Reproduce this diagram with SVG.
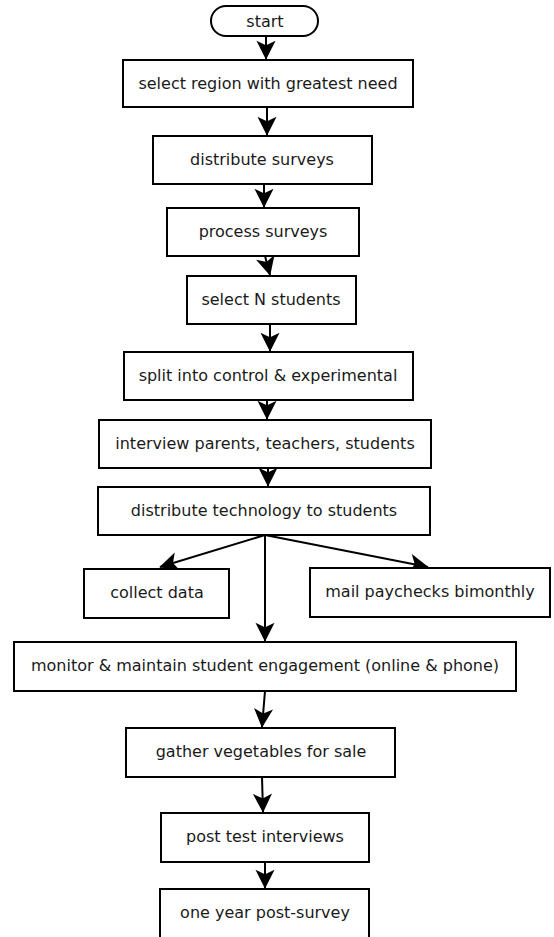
<svg xmlns="http://www.w3.org/2000/svg" width="554" height="937" viewBox="0 0 554 937">
<style>
.box{fill:#fff;stroke:#000;stroke-width:2}
.lbl{font-family:"DejaVu Sans",sans-serif;font-size:16px;fill:#1a1a1a;text-anchor:middle}
.edge{stroke:#000;stroke-width:2;fill:none;marker-end:url(#arr)}
</style>
<defs>
<marker id="arr" markerUnits="userSpaceOnUse" markerWidth="22" markerHeight="22" viewBox="-18 -10 20 20" refX="0" refY="0" orient="auto">
<path d="M-1,0 L-15,-7 L-11.5,0 L-15,7 Z" fill="#000" stroke="#000" stroke-width="1.5" stroke-linejoin="miter"/>
</marker>
</defs>
<rect width="554" height="937" fill="#fff"/>
<g id="connectors">
<line class="edge" x1="266" y1="36" x2="266" y2="59"/>
<line class="edge" x1="267" y1="107" x2="267" y2="135"/>
<line class="edge" x1="264" y1="184" x2="264" y2="207"/>
<line class="edge" x1="265" y1="256" x2="270" y2="275"/>
<line class="edge" x1="270" y1="324" x2="270" y2="351"/>
<line class="edge" x1="267" y1="400" x2="267" y2="419"/>
<line class="edge" x1="268" y1="468" x2="268" y2="486"/>
<line class="edge" x1="265" y1="535" x2="160" y2="567"/>
<line class="edge" x1="265" y1="535" x2="428" y2="567"/>
<line class="edge" x1="265" y1="535" x2="265" y2="641"/>
<line class="edge" x1="265" y1="691" x2="262" y2="727"/>
<line class="edge" x1="262" y1="777" x2="263" y2="812"/>
<line class="edge" x1="265" y1="862" x2="265" y2="888"/>
</g>
<g id="start"><rect class="box" x="211" y="6" width="107" height="30" rx="15" ry="15"/><text class="lbl" x="265" y="27">start</text></g>
<g id="n1"><rect class="box" x="123" y="60" width="290" height="47"/><text class="lbl" x="268" y="89">select region with greatest need</text></g>
<g id="n2"><rect class="box" x="153" y="136" width="219" height="48"/><text class="lbl" x="262" y="165">distribute surveys</text></g>
<g id="n3"><rect class="box" x="167" y="208" width="192" height="48"/><text class="lbl" x="263" y="237">process surveys</text></g>
<g id="n4"><rect class="box" x="187" y="276" width="169" height="48"/><text class="lbl" x="271" y="305">select N students</text></g>
<g id="n5"><rect class="box" x="124" y="352" width="289" height="48"/><text class="lbl" x="268" y="381">split into control &amp; experimental</text></g>
<g id="n6"><rect class="box" x="99" y="420" width="332" height="48"/><text class="lbl" x="265" y="449">interview parents, teachers, students</text></g>
<g id="n7"><rect class="box" x="98" y="487" width="332" height="48"/><text class="lbl" x="264" y="516">distribute technology to students</text></g>
<g id="n8"><rect class="box" x="84" y="569" width="145" height="49"/><text class="lbl" x="157" y="598">collect data</text></g>
<g id="n9"><rect class="box" x="310" y="568" width="240" height="49"/><text class="lbl" x="430" y="597">mail paychecks bimonthly</text></g>
<g id="n10"><rect class="box" x="14" y="642" width="502" height="49"/><text class="lbl" x="265" y="671">monitor &amp; maintain student engagement (online &amp; phone)</text></g>
<g id="n11"><rect class="box" x="126" y="728" width="269" height="49"/><text class="lbl" x="261" y="757">gather vegetables for sale</text></g>
<g id="n12"><rect class="box" x="161" y="813" width="208" height="49"/><text class="lbl" x="265" y="842">post test interviews</text></g>
<g id="n13"><rect class="box" x="160" y="889" width="209" height="60"/><text class="lbl" x="265" y="918">one year post-survey</text></g>
</svg>
